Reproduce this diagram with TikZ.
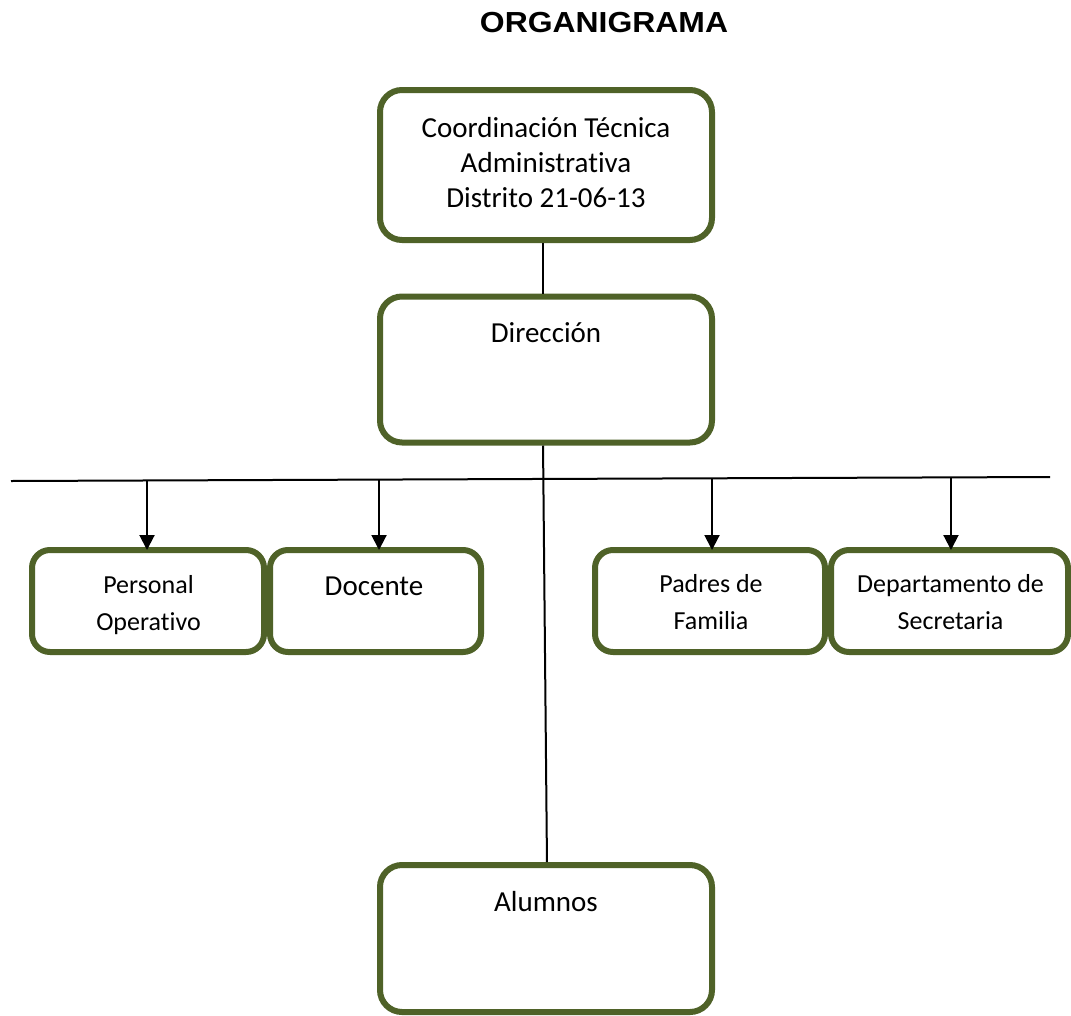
\documentclass[tikz,border=0pt]{standalone}
\usepackage{fontspec}
\usepackage{graphicx}
\setmainfont{Carlito}[Ligatures=NoCommon]
\newfontfamily\titlefont{Liberation Sans}
\usetikzlibrary{arrows.meta,calc}
\definecolor{olivebox}{HTML}{4F6228}
\begin{document}
\begin{tikzpicture}[x=1pt,y=-1pt,
  box/.style={draw=olivebox, line width=6pt, rounded corners=22pt, fill=white, inner sep=0pt, outer sep=0pt},
  bigbox/.style={box, minimum width=332pt, minimum height=150pt},
  smallbox/.style={box, rounded corners=18pt, minimum height=102pt},
  conn/.style={draw=black, line width=2pt},
  arr/.style={conn, -{Triangle[width=15pt,length=15pt]}},
  lbl/.style={anchor=base, align=center, font=\fontsize{29}{35}\selectfont, inner sep=0pt},
  slbl/.style={anchor=base, align=center, font=\fontsize{26}{37}\selectfont, inner sep=0pt}]
\useasboundingbox (0,0) rectangle (1071,1015);

% title
\node[anchor=base, inner sep=0pt] (title) at (604,32)
  {\scalebox{1.1}[1]{\titlefont\bfseries\fontsize{29}{35}\selectfont ORGANIGRAMA}};

% boxes
\node[bigbox] (coord) at (546,165) {};
\node[bigbox, minimum height=146pt] (dir) at (546,369.5) {};
\node[bigbox, minimum height=147pt] (alum) at (546,938.5) {};
\node[smallbox, minimum width=232pt] (pers) at (148,601) {};
\node[smallbox, minimum width=211pt] (doc) at (375.5,601) {};
\node[smallbox, minimum width=230pt] (pad) at (710,601) {};
\node[smallbox, minimum width=237pt] (dep) at (949.5,601) {};

% texts (base anchor = baseline of last line)
\node[lbl] (tcoord) at (546,207) {Coordinación Técnica\\Administrativa\\Distrito 21-06-13};
\node[lbl] (tdir) at (546,342) {Dirección};
\node[lbl] (tdoc) at (374,595) {Docente};
\node[slbl] (tpers) at (148.5,630) {Personal\\Operativo};
\node[slbl] (tpad) at (711,629) {Padres de\\Familia};
\node[slbl] (tdep) at (950.5,629) {Departamento de\\Secretaria};
\node[lbl] (talum) at (546,911) {Alumnos};

% connectors
\draw[conn, shorten <=3pt, shorten >=3pt] ([xshift=-3pt]coord.south) -- ([xshift=-3pt]dir.north);
\draw[conn, shorten <=3pt, shorten >=3pt] ([xshift=-3pt]dir.south) -- ([xshift=1pt]alum.north);
\coordinate (hl) at (11,481);
\coordinate (hr) at (1050,477);
\draw[conn] (hl) -- (hr);
\path (hl) -- (hr)
  coordinate[pos=0.1309] (a1)
  coordinate[pos=0.3542] (a2)
  coordinate[pos=0.6747] (a3)
  coordinate[pos=0.9047] (a4);
\draw[arr] (a1) -- (a1 |- pers.north);
\draw[arr] (a2) -- (a2 |- doc.north);
\draw[arr] (a3) -- (a3 |- pad.north);
\draw[arr] (a4) -- (a4 |- dep.north);
\end{tikzpicture}
\end{document}
